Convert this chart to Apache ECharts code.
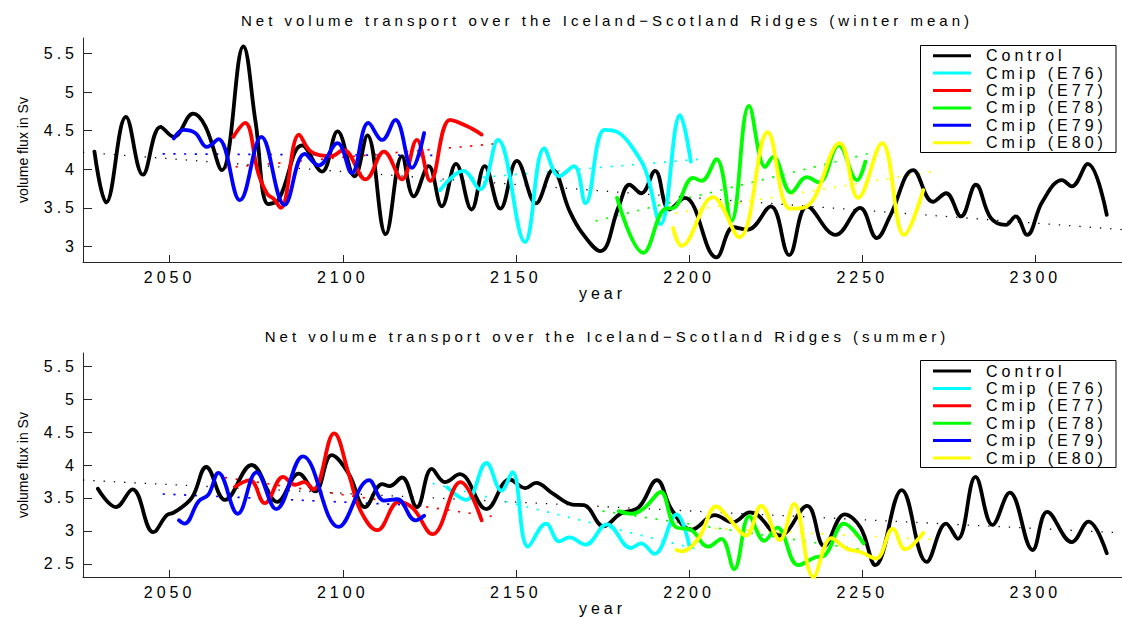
<!DOCTYPE html>
<html>
<head>
<meta charset="utf-8">
<script src="https://cdn.jsdelivr.net/npm/echarts@6/dist/echarts.min.js"></script>
<style>
  html, body { margin: 0; padding: 0; background: #ffffff; }
  #chart { width: 1122px; height: 618px; }
  /* wide tracking on plot text; the rotated axis name keeps normal spacing */
  #chart svg text { letter-spacing: 4px; }
  #chart svg text[style*="Arial"], #chart svg text[font-family*="Arial"] { letter-spacing: 0; }
</style>
</head>
<body>
<div id="chart"></div>
<script>
// ---- winter mean, smoothed series: [year, Sv] ----
const winterControl = [[2028.3,4.23],[2031.7,3.57],[2037.4,4.68],[2042.3,3.93],[2047.4,4.55],[2051.2,4.42],[2056.8,4.72],[2060.3,4.56],[2065.1,3.99],[2071.3,5.59],[2074.8,4.62],[2078.5,3.55],[2081.5,3.61],[2088.3,4.31],[2094.0,3.97],[2098.5,4.49],[2103.4,3.91],[2107.1,4.44],[2112.4,3.16],[2117.1,4.17],[2120.5,3.65],[2124.8,4.04],[2128.6,3.52],[2132.7,4.07],[2137.2,3.48],[2141.0,4.04],[2145.5,3.49],[2150.3,4.11],[2155.8,3.56],[2160.6,3.99],[2165.4,3.47],[2169.2,3.17],[2174.4,2.94],[2179.7,3.52],[2182.8,3.80],[2186.2,3.69],[2190.2,3.98],[2194.3,3.48],[2198.8,3.63],[2207.9,2.86],[2212.8,3.25],[2216.9,3.22],[2223.6,3.52],[2228.9,2.89],[2234.1,3.52],[2242.3,3.15],[2249.4,3.50],[2254.2,3.11],[2258.0,3.39],[2264.7,3.99],[2270.4,3.58],[2274.2,3.69],[2278.5,3.39],[2282.8,3.80],[2287.1,3.37],[2291.4,3.28],[2294.3,3.39],[2297.6,3.15],[2302.0,3.58],[2307.7,3.86],[2310.5,3.78],[2315.1,4.07],[2320.6,3.41]];
const winterE76 = [[2128.1,3.73],[2134.8,3.98],[2139.6,3.74],[2144.8,4.38],[2152.6,3.06],[2158.2,4.27],[2162.5,3.91],[2166.8,4.04],[2170.1,3.56],[2175.6,4.51],[2179.8,4.47],[2183.8,4.27],[2187.5,3.98],[2191.8,3.29],[2197.4,4.70],[2200.5,4.10]];
const winterE77 = [[2068.4,4.42],[2071.8,4.60],[2075.6,3.95],[2078.2,3.68],[2080.0,3.62],[2082.1,3.50],[2087.4,4.45],[2090.8,4.23],[2096.6,4.17],[2100.2,4.25],[2106.6,3.87],[2111.9,4.23],[2117.1,3.87],[2121.4,4.38],[2125.3,3.85],[2131.0,4.64],[2135.8,4.56],[2140.1,4.45]];
const winterE78 = [[2179.2,3.63],[2186.8,2.92],[2193.1,3.49],[2195.5,3.50],[2201.2,3.89],[2203.6,3.85],[2207.9,4.13],[2212.2,3.33],[2217.3,4.82],[2222.0,4.03],[2224.3,4.16],[2229.5,3.70],[2234.0,3.90],[2237.5,3.83],[2243.2,4.31],[2248.5,3.86],[2250.9,4.10]];
const winterE79 = [[2051.2,4.40],[2054.1,4.51],[2057.4,4.47],[2060.8,4.29],[2064.1,4.39],[2070.3,3.60],[2076.5,4.42],[2083.2,3.54],[2089.0,4.20],[2093.0,4.05],[2098.5,4.34],[2102.6,3.95],[2107.4,4.60],[2111.4,4.38],[2115.2,4.64],[2120.0,4.02],[2123.5,4.47]];
const winterE80 = [[2195.4,3.24],[2197.8,3.01],[2206.9,3.64],[2214.5,3.12],[2222.7,4.48],[2229.2,3.49],[2234.0,3.52],[2243.5,4.34],[2248.8,3.63],[2255.7,4.34],[2262.1,3.15],[2267.6,3.73]];

// ---- winter mean, linear trends: [year, Sv] end points ----
const winterControlTrend = [[2025,4.22],[2325,3.22]];
const winterE76Trend = [[2125,3.84],[2203,4.13]];
const winterE77Trend = [[2066,4.02],[2144,4.33]];
const winterE78Trend = [[2173,3.33],[2256,4.25]];
const winterE79Trend = [[2048,4.20],[2126,4.18]];
const winterE80Trend = [[2193,3.41],[2270,3.97]];

// ---- summer, smoothed series: [year, Sv] ----
const summerControl = [[2029.3,3.64],[2034.5,3.36],[2039.3,3.63],[2045.3,2.98],[2049.2,3.24],[2051.3,3.28],[2056.4,3.50],[2060.6,3.97],[2066.0,3.47],[2073.7,4.00],[2081.1,3.44],[2087.3,3.87],[2092.0,3.60],[2096.8,4.15],[2101.8,3.86],[2106.4,3.36],[2111.4,3.71],[2113.5,3.68],[2117.1,3.81],[2121.4,3.36],[2125.7,3.94],[2129.5,3.74],[2133.8,3.86],[2141.5,3.33],[2148.2,3.78],[2152.7,3.65],[2155.8,3.73],[2160.6,3.57],[2166.3,3.40],[2169.7,3.39],[2175.3,3.07],[2180.2,3.26],[2185.5,3.36],[2190.7,3.77],[2195.0,3.32],[2200.8,3.02],[2207.4,3.24],[2212.6,3.13],[2217.6,3.28],[2219.8,3.24],[2226.2,2.93],[2234.1,3.38],[2239.0,2.77],[2244.9,3.25],[2249.5,3.05],[2253.8,2.48],[2261.4,3.62],[2268.6,2.53],[2274.2,3.11],[2277.6,2.88],[2282.7,3.82],[2287.6,3.09],[2292.6,3.58],[2299.2,2.71],[2303.4,3.29],[2310.5,2.83],[2315.3,3.14],[2320.6,2.66]];
const summerE76 = [[2130.2,3.66],[2135.7,3.47],[2141.5,4.03],[2145.8,3.61],[2149.0,3.89],[2153.5,2.76],[2158.7,3.11],[2162.5,2.84],[2165.4,2.90],[2170.1,2.79],[2176.3,3.10],[2183.2,2.74],[2186.1,2.81],[2190.0,2.65],[2196.4,3.25],[2200.1,2.77]];
const summerE77 = [[2068.9,3.67],[2073.2,3.77],[2077.5,3.42],[2082.8,3.82],[2086.2,3.70],[2088.9,3.74],[2091.5,3.63],[2097.5,4.48],[2101.8,3.85],[2105.2,3.30],[2110.0,3.01],[2116.2,3.44],[2120.3,3.34],[2125.9,2.95],[2134.0,3.74],[2140.1,3.16]];
const summerE78 = [[2179.7,3.30],[2183.5,3.26],[2187.3,3.36],[2191.8,3.59],[2195.9,3.07],[2200.7,3.01],[2205.5,2.76],[2209.3,2.88],[2213.0,2.42],[2217.4,3.22],[2221.7,2.85],[2225.5,3.05],[2231.5,2.48],[2236.5,2.60],[2239.0,2.62],[2244.7,3.11],[2250.4,2.81]];
const summerE79 = [[2052.7,3.16],[2054.3,3.11],[2058.4,3.45],[2061.2,3.55],[2064.1,3.88],[2069.7,3.26],[2075.1,3.89],[2080.8,3.33],[2088.5,4.13],[2098.8,3.06],[2107.6,3.77],[2111.9,3.46],[2115.7,3.48],[2121.0,3.16],[2123.5,3.23]];
const summerE80 = [[2196.4,2.71],[2197.8,2.69],[2202.6,2.88],[2207.9,3.37],[2211.2,3.21],[2216.5,2.93],[2220.8,3.38],[2226.2,2.86],[2230.3,3.41],[2235.9,2.30],[2241.1,2.89],[2245.5,2.73],[2249.5,2.68],[2254.0,2.58],[2258.8,3.03],[2262.4,2.72],[2267.6,2.97]];

// ---- summer, linear trends ----
const summerControlTrend = [[2025,3.77],[2325,2.97]];
const summerE76Trend = [[2126,3.72],[2204,2.70]];
const summerE77Trend = [[2066,3.81],[2143,3.22]];
const summerE78Trend = [[2175,3.30],[2252,2.70]];
const summerE79Trend = [[2048,3.56],[2124,3.38]];
const summerE80Trend = [[2195,3.07],[2270,2.87]];

// ---- names and ticks ----
const runNames = ['Control', 'Cmip (E76)', 'Cmip (E77)', 'Cmip (E78)', 'Cmip (E79)', 'Cmip (E80)'];
const yearTicks = [2050, 2100, 2150, 2200, 2250, 2300];
const winterFluxTicks = [3, 3.5, 4, 4.5, 5, 5.5];
const summerFluxTicks = [2.5, 3, 3.5, 4, 4.5, 5, 5.5];
const panelTitles = [
  'Net volume transport over the Iceland\u2212Scotland Ridges (winter mean)',
  'Net volume transport over the Iceland\u2212Scotland Ridges (summer)'
];

// ---- styling ----
const runColors = ['#000000', '#00ffff', '#ff0000', '#00ff00', '#0000ff', '#ffff00'];
const FONT = "'Liberation Sans', Helvetica, sans-serif";
const FONT_PLAIN = "'Liberation Sans', Arial, sans-serif";
const AXIS_COLOR = '#262626';

const panels = [
  { runs: [winterControl, winterE76, winterE77, winterE78, winterE79, winterE80],
    trends: [winterControlTrend, winterE76Trend, winterE77Trend, winterE78Trend, winterE79Trend, winterE80Trend],
    yMin: 2.8, yMax: 5.7, yTicks: winterFluxTicks, top: 38 },
  { runs: [summerControl, summerE76, summerE77, summerE78, summerE79, summerE80],
    trends: [summerControlTrend, summerE76Trend, summerE77Trend, summerE78Trend, summerE79Trend, summerE80Trend],
    yMin: 2.3, yMax: 5.7, yTicks: summerFluxTicks, top: 353 }
];

const plainNumber = function (v) { return String(v); };

const grids = [], xAxes = [], yAxes = [], series = [], legends = [], graphics = [];

panels.forEach(function (p, k) {
  grids.push({ left: 83, top: p.top, width: 1048, height: 224 });

  xAxes.push({
    gridIndex: k, type: 'value', min: 2025, max: 2325,
    name: 'year', nameLocation: 'middle', nameGap: 22,
    nameTextStyle: { fontSize: 16, fontFamily: FONT, color: '#000' },
    axisLine: { show: true, onZero: false, lineStyle: { color: AXIS_COLOR, width: 1 } },
    axisTick: { show: true, inside: true, length: 7, customValues: yearTicks, lineStyle: { color: AXIS_COLOR } },
    axisLabel: { customValues: yearTicks, formatter: plainNumber, fontSize: 16, fontFamily: FONT, color: '#000', margin: 7 },
    splitLine: { show: false }
  });

  yAxes.push({
    gridIndex: k, type: 'value', min: p.yMin, max: p.yMax,
    name: 'volume flux in Sv', nameLocation: 'middle', nameGap: 53,
    nameTextStyle: { fontSize: 14, fontFamily: FONT_PLAIN, color: '#000' },
    axisLine: { show: true, onZero: false, lineStyle: { color: AXIS_COLOR, width: 1 } },
    axisTick: { show: true, inside: true, length: 9, customValues: p.yTicks, lineStyle: { color: AXIS_COLOR } },
    axisLabel: { customValues: p.yTicks, formatter: plainNumber, fontSize: 16, fontFamily: FONT, color: '#000', margin: 5 },
    splitLine: { show: false }
  });

  // dotted linear trends underneath
  p.trends.forEach(function (t, i) {
    series.push({
      type: 'line', xAxisIndex: k, yAxisIndex: k, data: t,
      symbol: 'none', silent: true, z: 1,
      lineStyle: i === 0
        ? { color: runColors[i], width: 1.3, type: [1.3, 9] }
        : { color: runColors[i], width: 1.7, type: [2.2, 8.5] }
    });
  });

  // smoothed runs
  p.runs.forEach(function (r, i) {
    series.push({
      type: 'line', name: runNames[i], xAxisIndex: k, yAxisIndex: k, data: r,
      smooth: 0.4, symbol: 'none', showSymbol: false, z: 2,
      itemStyle: { color: runColors[i] },
      lineStyle: { color: runColors[i], width: 3.8, cap: 'round', join: 'round' }
    });
  });

  const legendTop = k === 0 ? 47.7 : 363;
  const boxTop = k === 0 ? 45.5 : 360.5;

  legends.push({
    data: runNames, orient: 'vertical', left: 933, top: legendTop,
    itemWidth: 38, itemHeight: 3, itemGap: 1.4, icon: 'rect', padding: 0,
    selectedMode: false,
    textStyle: { fontSize: 16, fontFamily: FONT, color: '#000', padding: [0, 0, 0, 10] }
  });

  graphics.push({
    type: 'rect', z: 3, silent: true,
    shape: { x: 920.5, y: boxTop, width: 195.5, height: 107 },
    style: { fill: '#ffffff', stroke: '#000000', lineWidth: 1 }
  });

  graphics.push({
    type: 'text', x: 607, y: k === 0 ? 20.5 : 336, silent: true,
    style: {
      text: panelTitles[k], fontSize: 15, fontFamily: FONT, fill: '#000',
      align: 'center', verticalAlign: 'middle', textAlign: 'center', textVerticalAlign: 'middle'
    }
  });
});

const chart = echarts.init(document.getElementById('chart'), null, { renderer: 'svg' });
chart.setOption({
  animation: false,
  backgroundColor: '#ffffff',
  grid: grids,
  xAxis: xAxes,
  yAxis: yAxes,
  legend: legends,
  graphic: graphics,
  series: series
});
</script>
</body>
</html>
